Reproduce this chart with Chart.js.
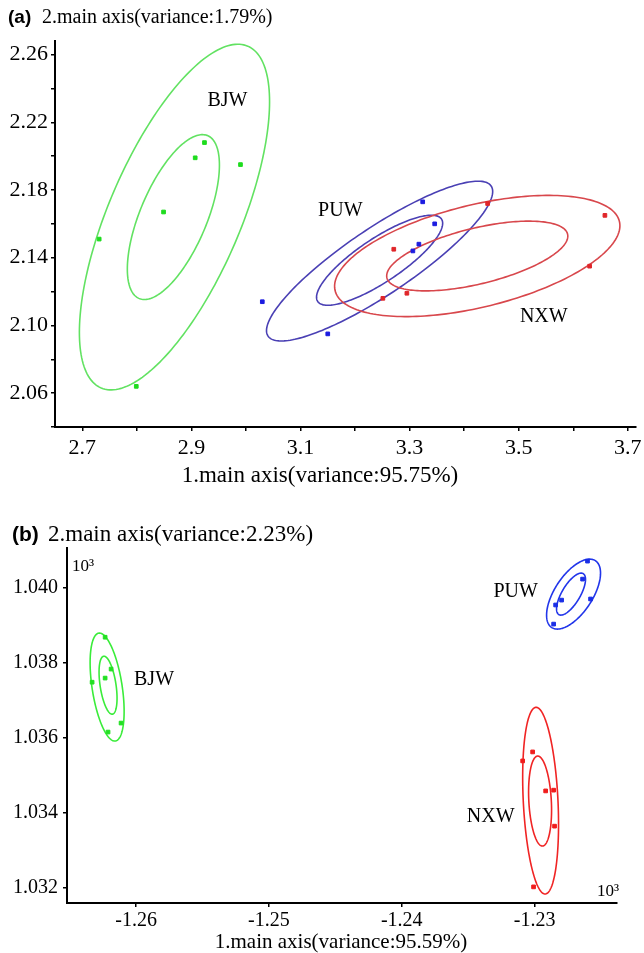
<!DOCTYPE html>
<html lang="en">
<head>
<meta charset="UTF-8">
<title>PCA main axes (a) / (b)</title>
<script src="https://cdn.jsdelivr.net/npm/chart.js"></script>
<style>
  body { margin: 0; background: #fff; }
  #wrap { position: relative; width: 644px; height: 953px; }
  .panel { position: absolute; left: 0; width: 644px; }
</style>
</head>
<body>
<div id="wrap">
  <div class="panel" style="top:0;height:500px"><canvas id="chartA" width="644" height="500"></canvas></div>
  <div class="panel" style="top:510px;height:443px"><canvas id="chartB" width="644" height="443"></canvas></div>
</div>
<script>
// ---- panel (a) ----
const groups = ['BJW', 'PUW', 'NXW'];
const bjwAx = [2.731, 2.849, 2.907, 2.924, 2.990, 2.799];
const bjwAy = [2.151, 2.167, 2.199, 2.208, 2.195, 2.064];
const puwAx = [3.324, 3.346, 3.317, 3.306, 3.150, 3.030];
const puwAy = [2.173, 2.160, 2.148, 2.144, 2.095, 2.114];
const nxwAx = [3.443, 3.658, 3.630, 3.271, 3.251, 3.295];
const nxwAy = [2.172, 2.165, 2.135, 2.145, 2.116, 2.119];
// ellipses: [centre x, centre y, half range x, half range y, correlation]
const bjwAEll = [[2.869, 2.164, 0.1743, 0.1021, 0.667], [2.867, 2.164, 0.0844, 0.0487, 0.63]];
const puwAEll = [[3.245, 2.138, 0.2073, 0.0472, 0.87], [3.245, 2.1385, 0.1156, 0.0266, 0.82]];
const nxwAEll = [[3.424, 2.141, 0.2615, 0.0358, 0.5], [3.424, 2.141, 0.166, 0.0206, 0.57]];
const labelPosA = [[2.966, 2.233], [3.173, 2.168], [3.546, 2.105]];
const xTicksA = [2.7, 2.8, 2.9, 3.0, 3.1, 3.2, 3.3, 3.4, 3.5, 3.6, 3.7];
const xLabelsA = [2.7, 2.9, 3.1, 3.3, 3.5, 3.7];
const yTicksA = [2.04, 2.06, 2.08, 2.10, 2.12, 2.14, 2.16, 2.18, 2.20, 2.22, 2.24, 2.26];
const yLabelsA = [2.06, 2.10, 2.14, 2.18, 2.22, 2.26];

// ---- panel (b) ----
const bjwBx = [-1.26233, -1.26188, -1.26233, -1.26331, -1.26113, -1.26211];
const bjwBy = [1.03869, 1.03784, 1.0376, 1.03749, 1.0364, 1.03616];
const puwBx = [-1.22602, -1.22639, -1.22579, -1.22797, -1.22842, -1.22857];
const puwBy = [1.04072, 1.04024, 1.03971, 1.03968, 1.03955, 1.03904];
const nxwBx = [-1.23015, -1.2309, -1.22917, -1.22857, -1.2285, -1.23008];
const nxwBy = [1.03563, 1.03539, 1.03459, 1.03461, 1.03365, 1.03203];
const bjwBEll = [[-1.26218, 1.03736, 0.00128, 0.00144, -0.45], [-1.26211, 1.03741, 0.000677, 0.000773, -0.45]];
const puwBEll = [[-1.22707, 1.03984, 0.00203, 0.000933, 0.6], [-1.22726, 1.03984, 0.00109, 0.00056, 0.7]];
const nxwBEll = [[-1.22955, 1.03433, 0.00135, 0.00249, -0.25], [-1.22959, 1.03432, 0.000865, 0.0012, -0.2]];
const labelPosB = [[-1.25865, 1.03755], [-1.23143, 1.0399], [-1.23331, 1.03389]];
const xTicksB = [-1.26, -1.25, -1.24, -1.23];
const yTicksB = [1.032, 1.034, 1.036, 1.038, 1.040];

const serif = '"Liberation Serif", "Times New Roman", serif';
const sans = '"Liberation Sans", Arial, sans-serif';

function drawEllipse(chart, e, color) {
  const ctx = chart.ctx, xs = chart.scales.x, ys = chart.scales.y;
  const [cx, cy, sx, sy, rho] = e;
  const k = Math.sqrt(1 - rho * rho);
  ctx.beginPath();
  for (let i = 0; i <= 200; i++) {
    const t = i / 200 * 2 * Math.PI;
    const px = xs.getPixelForValue(cx + sx * Math.cos(t));
    const py = ys.getPixelForValue(cy + sy * (rho * Math.cos(t) + k * Math.sin(t)));
    if (i === 0) ctx.moveTo(px, py); else ctx.lineTo(px, py);
  }
  ctx.closePath();
  ctx.strokeStyle = color;
  ctx.lineWidth = 1.6;
  ctx.stroke();
}

function text(ctx, s, x, y, font, align) {
  ctx.font = font;
  ctx.fillStyle = '#000';
  ctx.textAlign = align || 'left';
  ctx.textBaseline = 'middle';
  ctx.fillText(s, x, y);
}

function hasLabel(list, v) {
  return list.some(l => Math.abs(l - v) < 1e-7);
}

function buildChart(id, p) {
  return new Chart(document.getElementById(id), {
    type: 'scatter',
    data: {
      datasets: groups.map((g, i) => ({
        label: g,
        data: p.xs[i].map((x, j) => ({ x: x, y: p.ys[i][j] })),
        pointStyle: 'rect',
        pointRadius: p.pr,
        pointBackgroundColor: p.pointColors[i],
        pointBorderColor: p.pointColors[i],
        pointBorderWidth: 1
      }))
    },
    options: {
      responsive: false,
      animation: false,
      layout: { padding: p.pad },
      plugins: { legend: { display: false }, tooltip: { enabled: false } },
      scales: {
        x: {
          type: 'linear', min: p.xMin, max: p.xMax,
          afterBuildTicks: s => { s.ticks = p.xTicks.map(v => ({ value: v })); },
          afterFit: s => { s.height = p.xH; s.paddingLeft = 0; s.paddingRight = 0; },
          ticks: {
            autoSkip: false, maxRotation: 0, color: '#000', padding: p.xPad,
            font: { family: serif, size: p.tickSize },
            callback: v => hasLabel(p.xLabels, v) ? v.toFixed(p.xDec) : ''
          },
          grid: { drawOnChartArea: false, drawTicks: true, tickLength: 4, color: '#000', lineWidth: 1.5 },
          border: { color: '#000', width: 2 }
        },
        y: {
          type: 'linear', min: p.yMin, max: p.yMax,
          afterBuildTicks: s => { s.ticks = p.yTicks.map(v => ({ value: v })); },
          afterFit: s => { s.width = p.yW; s.paddingTop = 0; s.paddingBottom = 0; },
          ticks: {
            autoSkip: false, color: '#000', padding: p.yPad,
            font: { family: serif, size: p.tickSize },
            callback: v => hasLabel(p.yLabels, v) ? v.toFixed(p.yDec) : ''
          },
          grid: { drawOnChartArea: false, drawTicks: true, tickLength: 4, color: '#000', lineWidth: 1.5 },
          border: { color: '#000', width: 2 }
        }
      }
    },
    plugins: [{
      id: 'ellipses',
      beforeDatasetsDraw(chart) {
        chart.ctx.save();
        p.ellipses.forEach((set, i) => set.forEach(e => drawEllipse(chart, e, p.lineColors[i])));
        chart.ctx.restore();
      },
      afterDraw(chart) {
        const ctx = chart.ctx;
        ctx.save();
        groups.forEach((g, i) => {
          text(ctx, g, chart.scales.x.getPixelForValue(p.labelPos[i][0]),
            chart.scales.y.getPixelForValue(p.labelPos[i][1]), '20px ' + serif, 'center');
        });
        p.texts.forEach(t => text(ctx, t[0], t[1], t[2], t[3], t[4]));
        ctx.restore();
      }
    }]
  });
}

buildChart('chartA', {
  xs: [bjwAx, puwAx, nxwAx], ys: [bjwAy, puwAy, nxwAy],
  ellipses: [bjwAEll, puwAEll, nxwAEll],
  labelPos: labelPosA,
  pointColors: ['#1fdc1f', '#1c1ce0', '#e0262a'],
  lineColors: ['#62e262', '#4a40b4', '#d8474c'],
  pr: 2.6,
  pad: { top: 41, right: 8, left: 0, bottom: 0 },
  xMin: 2.65, xMax: 3.715, yMin: 2.04, yMax: 2.268,
  xTicks: xTicksA, xLabels: xLabelsA, yTicks: yTicksA, yLabels: yLabelsA,
  xDec: 1, yDec: 2, xH: 73, yW: 55, xPad: 4, yPad: 3, tickSize: 22,
  texts: [
    ['(a)', 8, 18, 'bold 19px ' + sans],
    ['2.main axis(variance:1.79%)', 42, 18, '20px ' + serif],
    ['1.main axis(variance:95.75%)', 320, 476, '23px ' + serif, 'center']
  ]
});

buildChart('chartB', {
  xs: [bjwBx, puwBx, nxwBx], ys: [bjwBy, puwBy, nxwBy],
  ellipses: [bjwBEll, puwBEll, nxwBEll],
  labelPos: labelPosB,
  pointColors: ['#22e022', '#1a2ee6', '#f01c1c'],
  lineColors: ['#3aec3a', '#2236ea', '#f02424'],
  pr: 2.6,
  pad: { top: 38, right: 27, left: 0, bottom: 0 },
  xMin: -1.2652, xMax: -1.2238, yMin: 1.0316, yMax: 1.04107,
  xTicks: xTicksB, xLabels: xTicksB, yTicks: yTicksB, yLabels: yTicksB,
  xDec: 2, yDec: 3, xH: 50, yW: 67, xPad: 2, yPad: 5, tickSize: 20,
  texts: [
    ['(b)', 12, 25, 'bold 21px ' + sans],
    ['2.main axis(variance:2.23%)', 48, 25, '23px ' + serif],
    ['10³', 72, 57, '17px ' + serif],
    ['10³', 597, 382, '17px ' + serif],
    ['1.main axis(variance:95.59%)', 341, 432, '21px ' + serif, 'center']
  ]
});
</script>
</body>
</html>
